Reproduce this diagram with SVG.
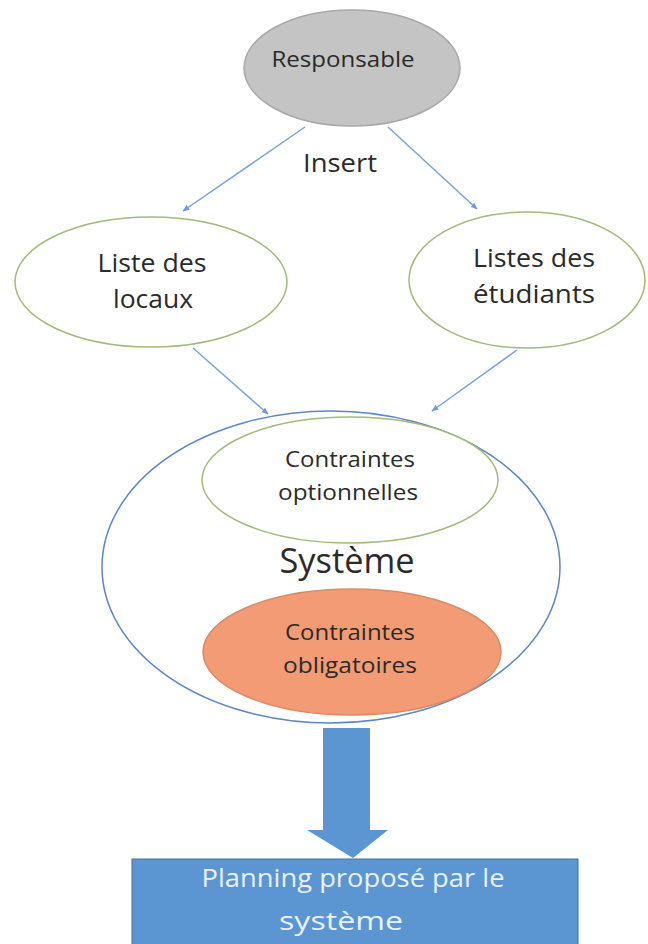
<svg xmlns="http://www.w3.org/2000/svg" width="648" height="944" viewBox="0 0 648 944">
<style>
text{font-family:"Open Sans","Liberation Sans",sans-serif;text-anchor:middle;fill:#2a2a2a}
.green{fill:#fff;stroke:#a3b97a;stroke-width:1.5}
.conn{stroke:#7aa3d3;stroke-width:1.5;fill:none;marker-end:url(#ah)}
.light{fill:#eaf1fa}
</style>
<defs>
<marker id="ah" viewBox="0 0 10 10" refX="9" refY="5" markerWidth="7" markerHeight="7" orient="auto" markerUnits="userSpaceOnUse">
<path d="M0,1 L10,5 L0,9 z" fill="#6f9bd0"/>
</marker>
</defs>
<rect width="648" height="944" fill="#fff"/>
<g id="connectors">
<line class="conn" x1="305" y1="127" x2="183" y2="211"/>
<line class="conn" x1="388" y1="127" x2="477" y2="209"/>
<line class="conn" x1="193" y1="348" x2="268" y2="414"/>
<line class="conn" x1="517" y1="350" x2="432" y2="411"/>
<path d="M323,728 H370 V830 H388 L353,858 L307,830 H323 Z" fill="#5b95d2"/>
</g>
<g id="responsable">
<ellipse cx="352" cy="68" rx="108" ry="58" fill="#c4c4c4" stroke="#a8a8a8" stroke-width="1.5"/>
<text x="343" y="67" font-size="22" textLength="143" lengthAdjust="spacingAndGlyphs">Responsable</text>
</g>
<text id="insert-label" x="340" y="172" font-size="25" textLength="74" lengthAdjust="spacingAndGlyphs">Insert</text>
<g id="liste-locaux">
<ellipse class="green" cx="151" cy="282" rx="136" ry="65"/>
<text x="152" y="272" font-size="25" textLength="109" lengthAdjust="spacingAndGlyphs">Liste des</text>
<text x="153" y="308" font-size="25" textLength="80" lengthAdjust="spacingAndGlyphs">locaux</text>
</g>
<g id="liste-etudiants">
<ellipse class="green" cx="527" cy="280" rx="118" ry="68"/>
<text x="534" y="267" font-size="25" textLength="122" lengthAdjust="spacingAndGlyphs">Listes des</text>
<text x="534" y="303" font-size="25" textLength="122" lengthAdjust="spacingAndGlyphs">étudiants</text>
</g>
<g id="systeme">
<ellipse cx="331" cy="567" rx="229" ry="156" fill="#fff" stroke="#5b86c4" stroke-width="1.5"/>
<text x="347" y="573" font-size="35" textLength="135" lengthAdjust="spacingAndGlyphs">Système</text>
</g>
<g id="contraintes-optionnelles">
<ellipse class="green" cx="350" cy="480" rx="148" ry="63"/>
<text x="350" y="467" font-size="21" textLength="130" lengthAdjust="spacingAndGlyphs">Contraintes</text>
<text x="348" y="500" font-size="21" textLength="140" lengthAdjust="spacingAndGlyphs">optionnelles</text>
</g>
<g id="contraintes-obligatoires">
<ellipse cx="352" cy="652" rx="149" ry="63" fill="#f39b75" stroke="#d98a66" stroke-width="1.5"/>
<text x="350" y="640" font-size="21" textLength="130" lengthAdjust="spacingAndGlyphs">Contraintes</text>
<text x="350" y="673" font-size="21" textLength="134" lengthAdjust="spacingAndGlyphs">obligatoires</text>
</g>
<g id="planning">
<rect x="132" y="859" width="446" height="86" fill="#5b95d2" stroke="#41719c" stroke-width="1"/>
<text class="light" x="353" y="887" font-size="25" textLength="303" lengthAdjust="spacingAndGlyphs">Planning proposé par le</text>
<text class="light" x="341" y="930" font-size="25" textLength="124" lengthAdjust="spacingAndGlyphs">système</text>
</g>
</svg>
